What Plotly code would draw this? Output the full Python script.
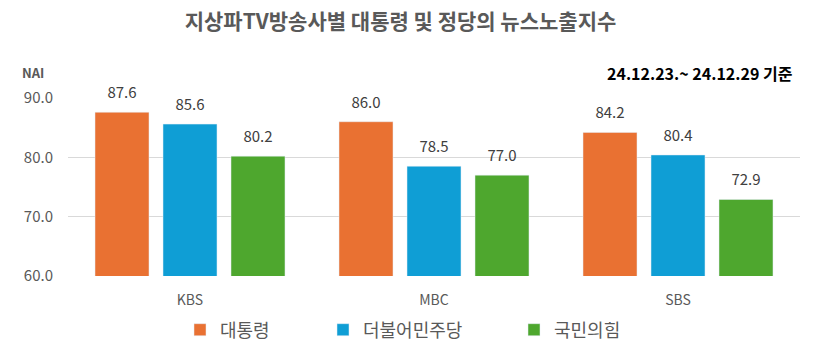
import plotly.graph_objects as go

categories = ["KBS", "MBC", "SBS"]
series_names = ["대통령", "더불어민주당", "국민의힘"]
president = [87.6, 86.0, 84.2]
democratic = [85.6, 78.5, 80.4]
ppp = [80.2, 77.0, 72.9]
y_ticks = [60, 70, 80, 90]
y_tick_labels = ["60.0", "70.0", "80.0", "90.0"]

colors = ["#E97132", "#0F9ED5", "#4EA72E"]
FONT = "Noto Sans CJK KR"

fig = go.Figure()
legends = ["legend", "legend2", "legend3"]
for name, vals, col, lg in zip(series_names, [president, democratic, ppp], colors, legends):
    fig.add_trace(go.Bar(
        x=categories, y=vals, name=name, marker_color=col,
        text=[f"<span style='font-size:15px'>{v:.1f}</span><br> " for v in vals],
        textposition="outside", constraintext="none",
        textfont=dict(size=7, color="#404040", family=FONT),
        cliponaxis=False, legend=lg,
    ))

W = 732
leg_common = dict(orientation="h", yanchor="middle", y=1 - 330 / 354, yref="container",
                  xref="paper",
                  font=dict(size=18, color="#595959", family=FONT),
                  bgcolor="rgba(0,0,0,0)", itemwidth=30)
fig.update_layout(
    width=814, height=354,
    margin=dict(l=68, r=14, t=98, b=78, autoexpand=False),
    paper_bgcolor="white", plot_bgcolor="white",
    barmode="group", bargap=0.164, bargroupgap=0.206,
    font=dict(family=FONT, color="#595959"),
    title=dict(text="<b>지상파TV방송사별 대통령 및 정당의 뉴스노출지수</b>",
               x=0.492, xanchor="center", y=1 - 22 / 354, yanchor="middle",
               font=dict(size=21, color="#595959", family=FONT)),
    legend=dict(x=(180 - 68) / W, **leg_common),
    legend2=dict(x=(323 - 68) / W, **leg_common),
    legend3=dict(x=(514 - 68) / W, **leg_common),
    xaxis=dict(tickfont=dict(size=14, color="#595959", family=FONT),
               showline=False, ticks="", ticklabelstandoff=14),
    yaxis=dict(range=[60, 90], tickvals=y_ticks, ticktext=y_tick_labels,
               tickfont=dict(size=15, color="#595959", family=FONT),
               showgrid=True, gridcolor="#D9D9D9", gridwidth=1,
               zeroline=False, showline=False, ticks="", ticklabelstandoff=14),
    showlegend=True,
)
fig.add_annotation(text="<b>NAI</b>", xref="paper", yref="paper",
                   x=(20 - 68) / W, y=(276 - 72) / 178, xanchor="left", yanchor="middle",
                   showarrow=False, font=dict(size=13, color="#595959", family=FONT))
fig.add_annotation(text="<b>24.12.23.~ 24.12.29 기준</b>", xref="paper", yref="paper",
                   x=(795 - 68) / W, y=(276 - 73) / 178, xanchor="right", yanchor="middle",
                   showarrow=False, font=dict(size=16, color="#000000", family=FONT))
fig.write_html("out.html")
